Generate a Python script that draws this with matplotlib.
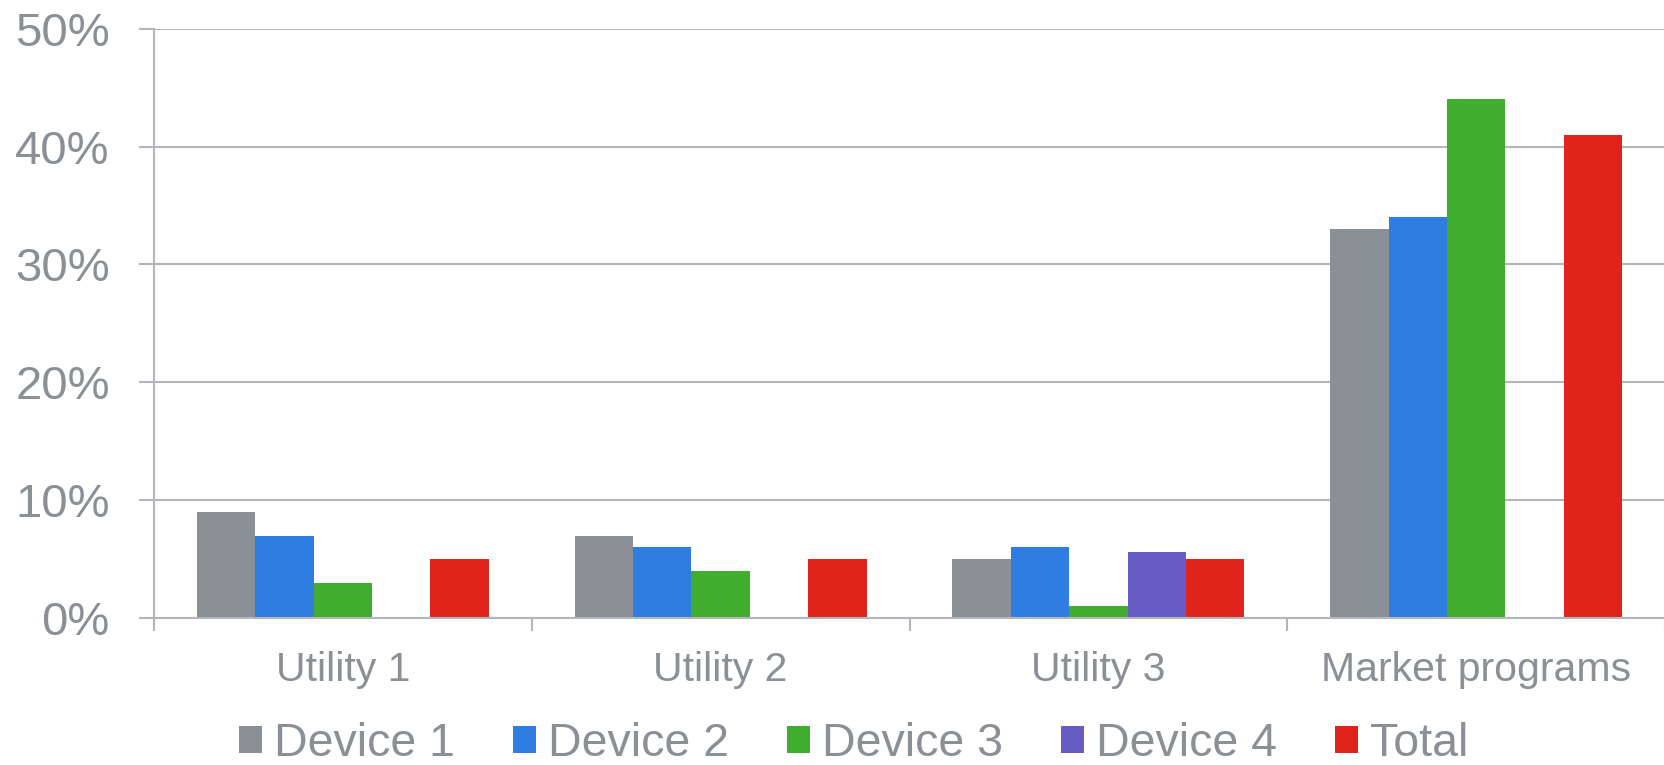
import numpy as np
import matplotlib
matplotlib.use("Agg")
import matplotlib.pyplot as plt
from matplotlib.ticker import FixedLocator, FuncFormatter

plt.rcParams['font.family'] = ['Liberation Sans', 'DejaVu Sans']

categories = ["Utility 1", "Utility 2", "Utility 3", "Market programs"]
series = ["Device 1", "Device 2", "Device 3", "Device 4", "Total"]
device1 = [9, 7, 5, 33]
device2 = [7, 6, 6, 34]
device3 = [3, 4, 1, 44]
device4 = [0, 0, 5.6, 0]
total = [5, 5, 5, 41]
y_ticks = [0, 10, 20, 30, 40, 50]

colors = ["#8a9096", "#2f7de1", "#41ad2e", "#665cc4", "#e0241b"]
text_col = "#8a9096"
line_col = "#b3b6ba"

values = [device1, device2, device3, device4, total]

fig = plt.figure(figsize=(16.65, 7.65), dpi=100)
ax = fig.add_axes([0.0925, 0.192, 0.9075, 0.7705])

x = np.arange(len(categories)) + 0.5
w = 0.1545
for j, (name, vals) in enumerate(zip(series, values)):
	ax.bar(x + (j - 2) * w, vals, width=w, color=colors[j], label=name, zorder=3)

ax.set_xlim(0, len(categories))
ax.set_ylim(0, 50)
ax.set_yticks(y_ticks)
ax.yaxis.set_major_formatter(FuncFormatter(lambda v, p: "%d%%" % v))
ax.grid(axis='y', color=line_col, linewidth=1.5, zorder=0)

ax.set_xticks(x)
ax.set_xticklabels(categories)
ax.xaxis.set_minor_locator(FixedLocator(np.arange(len(categories) + 1)))
ax.tick_params(axis='x', which='major', length=0, pad=24, labelsize=29.5, labelcolor=text_col)
ax.tick_params(axis='x', which='minor', length=9.5, width=1.5, color=line_col, direction='out')
ax.tick_params(axis='y', length=10.8, width=1.5, color=line_col, pad=21, labelsize=34, labelcolor=text_col)

for s in ['top', 'right']:
	ax.spines[s].set_visible(False)
for s in ['left', 'bottom']:
	ax.spines[s].set_color(line_col)
	ax.spines[s].set_linewidth(1.5)
	ax.spines[s].set_zorder(4)

leg = fig.legend(loc='center', bbox_to_anchor=(0.5126, 1 - 744 / 765), ncol=5, frameon=False,
	fontsize=33.5, handlelength=0.5, handleheight=0.5, handletextpad=0.25, columnspacing=1.25,
	borderpad=0, borderaxespad=0)
for t in leg.get_texts():
	t.set_color(text_col)

fig.savefig("out.png", dpi=100)
